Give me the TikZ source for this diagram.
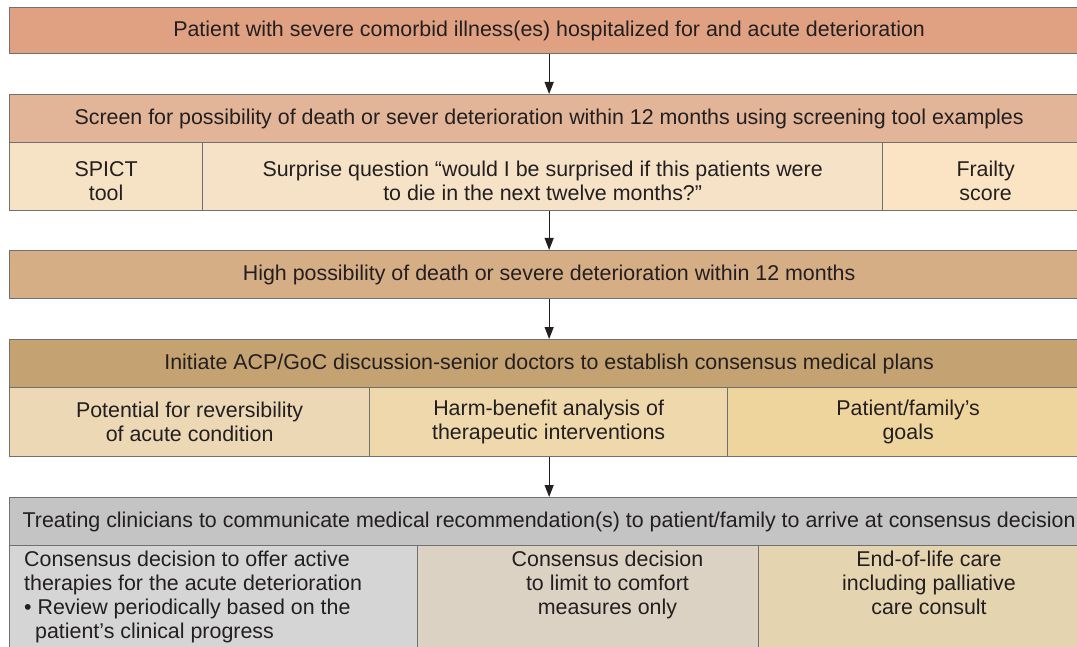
\documentclass[tikz,border=0pt]{standalone}
\usepackage{fontspec}
\setmainfont{Liberation Sans}
\usetikzlibrary{arrows.meta}

\definecolor{ink}{HTML}{231F20}
\definecolor{edgegrey}{HTML}{707070}
\definecolor{cPatient}{HTML}{E0A182}
\definecolor{cScreen}{HTML}{E2B598}
\definecolor{cSpict}{HTML}{F6E2C4}
\definecolor{cSurprise}{HTML}{F6E3C7}
\definecolor{cFrailty}{HTML}{FBE4C3}
\definecolor{cHigh}{HTML}{D6AE86}
\definecolor{cInitiate}{HTML}{C5A271}
\definecolor{cReverse}{HTML}{ECD8B5}
\definecolor{cHarm}{HTML}{EED8AC}
\definecolor{cGoals}{HTML}{EED49D}
\definecolor{cTreat}{HTML}{C4C4C4}
\definecolor{cActive}{HTML}{D5D5D5}
\definecolor{cComfort}{HTML}{DBD2C3}
\definecolor{cEnd}{HTML}{E4D4B0}

\newcommand{\lowstrut}{\rule{0pt}{23.5pt}}

\tikzset{
  box/.style={draw=edgegrey,line width=1.3pt,anchor=north west,inner sep=0pt,align=center,text=ink,font=\fontsize{21.4}{24}\selectfont},
  txt/.style={inner sep=0pt,text=ink,font=\fontsize{21.4}{24}\selectfont},
  arr/.style={-{Triangle[width=9pt,length=12pt]},draw=ink,line width=1.2pt},
}

\begin{document}
\begin{tikzpicture}[x=1pt,y=-1pt]
\path[use as bounding box,clip] (0,0) rectangle (1077,647);

\node[box,fill=cPatient,minimum width=1079,minimum height=46] (patient) at (9,7) {Patient with severe comorbid illness(es) hospitalized for and acute deterioration};

\node[box,fill=cScreen,minimum width=1079,minimum height=48] (screen) at (9,94) {Screen for possibility of death or sever deterioration within 12 months using screening tool examples};
\node[box,fill=cSpict,minimum width=193,minimum height=68] (spict) at (9,142) {\lowstrut SPICT\\tool};
\node[box,fill=cSurprise,minimum width=680,minimum height=68] (surprise) at (202,142) {\lowstrut Surprise question “would I be surprised if this patients were\\to die in the next twelve months?”};
\node[box,fill=cFrailty,minimum width=206,minimum height=68] (frailty) at (882,142) {\lowstrut Frailty\\score};

\node[box,fill=cHigh,minimum width=1079,minimum height=48] (high) at (9,250) {High possibility of death or severe deterioration within 12 months};

\node[box,fill=cInitiate,minimum width=1079,minimum height=48] (initiate) at (9,339) {Initiate ACP/GoC discussion-senior doctors to establish consensus medical plans};
\node[box,fill=cReverse,minimum width=360,minimum height=69] (reverse) at (9,387) {Potential for reversibility\\of acute condition};
\node[box,fill=cHarm,minimum width=358,minimum height=69] (harm) at (369,387) {Harm-benefit analysis of\\therapeutic interventions};
\node[box,fill=cGoals,minimum width=361,minimum height=69] (goals) at (727,387) {Patient/family’s\\goals};

\node[box,fill=cTreat,minimum width=1079,minimum height=48] (treat) at (9,497) {Treating clinicians to communicate medical recommendation(s) to patient/family to arrive at consensus decision};
\node[box,fill=cActive,minimum width=408,minimum height=130] (active) at (9,545) {};
\node[box,fill=cComfort,minimum width=341,minimum height=130] (comfort) at (417,545) {};
\node[box,fill=cEnd,minimum width=330,minimum height=130] (endlife) at (758,545) {};
\node[txt,anchor=north west,align=left] (activetext) at (24,551) {Consensus decision to offer active\\therapies for the acute deterioration\\• Review periodically based on the\\\hspace*{11pt}patient’s clinical progress};
\node[txt,anchor=north,align=center] (comforttext) at (607.5,551) {Consensus decision\\to limit to comfort\\measures only};
\node[txt,anchor=north,align=center] (endtext) at (929,551) {End-of-life care\\including palliative\\care consult};

% arrows down the chart
\draw[arr] (patient) -- (screen);
\draw[arr] (screen |- surprise.south) -- (high);
\draw[arr] (high) -- (initiate);
\draw[arr] (initiate |- harm.south) -- (treat);
\end{tikzpicture}
\end{document}
